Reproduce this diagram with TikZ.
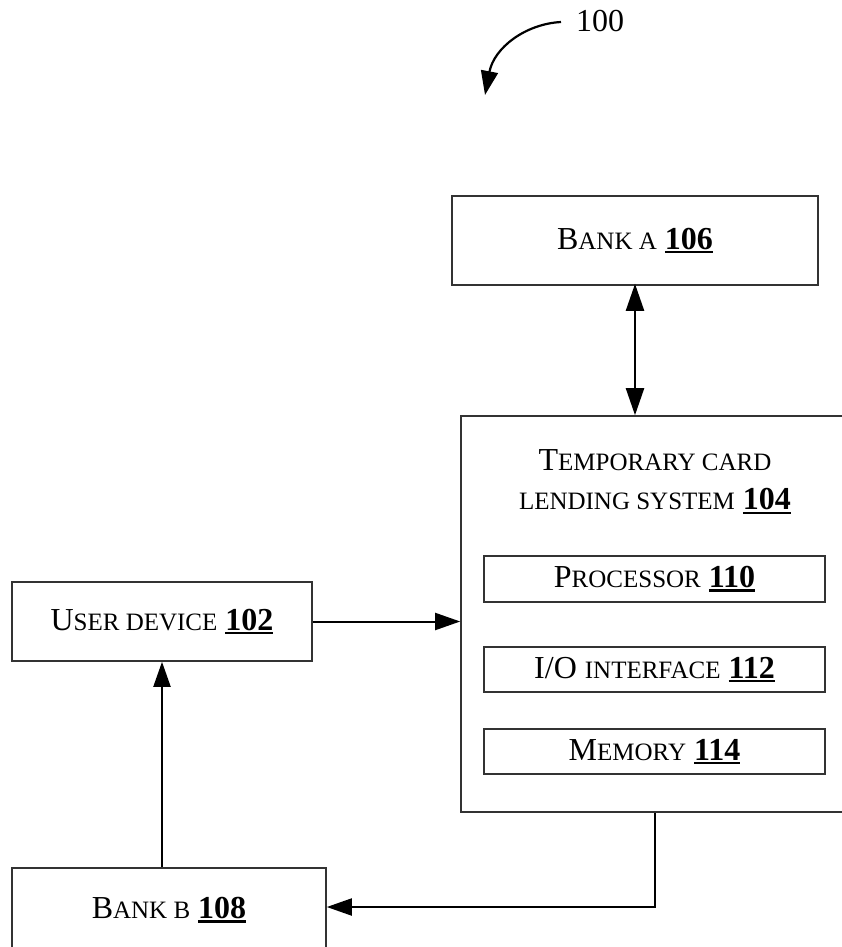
\documentclass[tikz,border=0pt]{standalone}
\usepackage{fontspec}
\setmainfont{Liberation Serif}
\usetikzlibrary{arrows.meta}
\newcommand\smc[1]{{\fontsize{25}{30}\selectfont #1}}
\newcommand\refnum[1]{{\setbox0\hbox{\bfseries #1}\rlap{\rule[-4pt]{\wd0}{2.4pt}}\box0}}
\begin{document}
\begin{tikzpicture}[x=1pt,y=-1pt,
  box/.style={draw=black!80, line width=1.6pt, rectangle, inner sep=0pt,
    font=\fontsize{32}{39}\selectfont, align=center},
  txt/.style={inner sep=0pt, font=\fontsize{32}{39}\selectfont, align=center},
  conn/.style={line width=2pt, -{Triangle[length=25pt,width=17pt]}},
  dconn/.style={line width=2.2pt, {Triangle[length=27pt,width=18pt]}-{Triangle[length=27pt,width=18pt]}}]
\useasboundingbox (0,0) rectangle (842,947);
\clip (0,0) rectangle (842,947);
\fill[white] (0,0) rectangle (842,947);

% label 100
\node[txt] (lbl) at (600,21) {100};
\coordinate (lblstart) at (561,22);
\coordinate (lblend) at (485,95);
\draw[line width=2.2pt, -{Triangle[length=24pt,width=17pt]}] (lblstart) .. controls (525,24) and (494,48) .. (lblend);

% boxes
\node[box, minimum width=366pt, minimum height=89pt] (bankA) at (635,240.5) {B\smc{ANK A} \refnum{106}};
\node[box, minimum width=409pt, minimum height=396pt] (tcls) at (665.5,614) {};
\node[txt] (tclstitle) at (655,482) {T\smc{EMPORARY CARD}\\\smc{LENDING SYSTEM} \refnum{104}};
\node[box, minimum width=341pt, minimum height=46pt] (proc) at (654.5,579) {P\smc{ROCESSOR} \refnum{110}};
\node[box, minimum width=341pt, minimum height=45pt] (io) at (654.5,669.5) {I/O \smc{INTERFACE} \refnum{112}};
\node[box, minimum width=341pt, minimum height=45pt] (mem) at (654.5,751.5) {M\smc{EMORY} \refnum{114}};
\node[box, minimum width=300pt, minimum height=79pt] (user) at (162,621.5) {U\smc{SER DEVICE} \refnum{102}};
\node[box, minimum width=314pt, minimum height=84pt] (bankB) at (169,910) {B\smc{ANK B} \refnum{108}};

% connectors
\draw[dconn] ([yshift=2pt]bankA.south) -- (bankA.south |- tcls.north);
\draw[conn] (user.east) -- (user.east -| tcls.west);
\draw[conn] (user.south |- bankB.north) -- (user.south);
\draw[conn] (mem.south |- tcls.south) |- ([yshift=3pt]bankB.east);
\end{tikzpicture}
\end{document}
